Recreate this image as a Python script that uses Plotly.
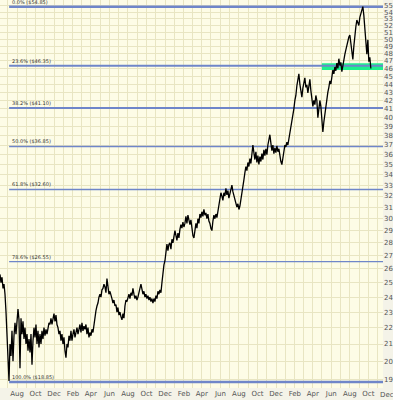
import numpy as np
import pandas as pd
import plotly.graph_objects as go

# ---- data ----
price_start = "2004-06-06"
price_end = "2007-10-09"
prices = [
    25.6, 25.0, 25.4, 24.6, 24.9, 24.2, 23.0, 21.2, 20.0, 18.9,
    21.0, 20.3, 21.8, 20.0, 21.5, 22.3, 21.6, 22.8, 23.2, 22.5,
    19.6, 22.6, 21.6, 22.4, 21.3, 22.0, 21.0, 21.6, 20.6, 21.3,
    20.5, 21.6, 19.8, 21.2, 22.0, 21.4, 22.2, 21.0, 21.8, 20.8,
    21.6, 21.0, 21.8, 21.3, 22.0, 21.5, 21.9, 21.6, 22.0, 22.3,
    22.2, 22.6, 22.2, 22.5, 22.9, 22.4, 22.8, 22.2, 22.0, 21.6,
    21.8, 21.2, 21.6, 21.0, 21.4, 20.6, 20.2, 21.0, 20.8, 21.5,
    21.2, 21.8, 21.2, 21.6, 21.9, 21.4, 21.8, 22.0, 21.6, 21.9,
    22.2, 21.7, 22.3, 21.8, 22.1, 21.9, 22.2, 21.6, 22.0, 21.4,
    21.7, 21.5, 21.9, 21.7, 22.3, 22.8, 23.1, 23.4, 23.6, 24.0,
    24.2, 24.0, 24.5, 24.6, 24.9, 24.7, 24.3, 25.3, 24.6, 24.2,
    24.4, 24.0, 23.9, 23.6, 23.8, 23.4, 23.5, 23.0, 23.3, 22.8,
    23.0, 22.7, 22.5, 22.9, 22.6, 23.4, 23.8, 23.7, 24.0, 24.2,
    23.9, 24.3, 24.1, 24.6, 24.2, 23.9, 24.1, 23.8, 24.0, 24.4,
    24.6, 24.9, 24.5, 24.2, 24.4, 24.0, 24.2, 23.9, 24.1, 23.8,
    24.0, 23.7, 23.9, 23.6, 23.9, 23.7, 24.1, 23.9, 24.4, 24.2,
    24.5, 24.3, 25.0, 25.9, 26.3, 26.6, 27.4, 27.9, 27.4, 27.9,
    28.0, 27.5, 28.3, 28.0, 28.5, 29.0, 28.6, 28.2, 28.8, 28.4,
    29.1, 29.5, 29.2, 29.7, 29.3, 29.6, 30.2, 29.6, 30.3, 29.8,
    29.5, 29.9, 29.0, 28.6, 28.4, 29.0, 29.6, 29.2, 30.0, 29.6,
    30.4, 30.1, 30.6, 30.2, 30.8, 30.3, 30.5, 30.0, 30.4, 29.8,
    29.6, 29.2, 29.0, 29.8, 30.3, 30.0, 30.4, 30.1, 30.6, 31.0,
    31.6, 32.3, 32.0, 31.6, 32.3, 32.0, 32.7, 32.1, 32.5, 31.8,
    32.2, 32.6, 33.0, 32.4, 32.0, 31.8, 31.4, 31.0, 31.3, 30.8,
    31.1, 31.6, 32.2, 32.8, 33.5, 34.2, 34.8, 34.4, 35.2, 34.8,
    35.6, 35.1, 36.0, 37.0, 36.2, 35.5, 36.3, 35.2, 35.9, 35.0,
    35.8, 35.3, 36.1, 35.5, 36.5, 35.9, 36.6, 36.0, 37.0, 37.5,
    38.1, 37.2, 36.4, 37.0, 36.1, 36.7, 36.2, 36.9, 36.3, 36.6,
    35.8, 35.3, 35.0, 35.8, 36.5, 37.0, 36.8, 37.3, 37.0, 37.6,
    38.2, 38.8, 39.5, 40.3, 41.0, 42.0, 42.6, 43.8, 44.6, 45.3,
    44.0, 43.2, 42.4, 43.5, 44.2, 44.8, 43.6, 43.9, 42.9, 43.8,
    44.6, 43.2, 42.4, 41.3, 42.0, 41.5, 42.6, 42.0, 40.0, 41.0,
    42.0, 41.3, 40.2, 38.4, 39.5, 40.5, 41.2, 42.0, 43.0, 43.6,
    44.4, 44.0, 45.0, 45.8, 45.3, 46.2, 45.7, 46.7, 46.0, 47.3,
    46.4, 46.8, 45.6, 46.6, 47.2, 47.9, 48.5, 49.2, 49.9, 50.3,
    50.6, 49.5, 48.5, 47.2, 49.0, 51.0, 51.8, 52.8, 52.3, 52.0,
    53.2, 53.8, 54.3, 54.85, 53.5, 51.3, 50.0, 47.9, 49.9, 46.9,
    47.5, 46.0,
]

fib_high = 54.85
fib_low = 18.85
fib_ratios = [0.0, 0.236, 0.382, 0.5, 0.618, 0.786, 1.0]
fib_widths = [2.5, 2, 2, 1.6, 1.6, 1.2, 2.5]
fib_start = "2004-07-06"
fib_end = "2007-11-18"

zone_low = 45.8
zone_high = 46.7
zone_start = "2007-05-01"
zone_end = "2007-11-18"

y_ticks = list(range(19, 56))
x_range = ["2004-06-06", "2007-11-18"]
y_range = [18.53, 55.9]
extra_x_label = "Dec"

# ---- styling ----
PLOT_BG = "#FDFCE6"
GRID = "#E8E5C2"
STRIP = "#F4F3E8"
FIB_COLOR = "#6F86C9"
ZONE = "#1CF08C"
FONT = "DejaVu Sans"
TICK_FONT = dict(family=FONT, size=7, color="#555555")

dates = pd.date_range(price_start, price_end, periods=len(prices))

fig = go.Figure()

# green support zone
fig.add_trace(go.Scatter(
    x=[zone_start, zone_end, zone_end, zone_start, zone_start],
    y=[zone_low, zone_low, zone_high, zone_high, zone_low],
    fill="toself", fillcolor=ZONE, mode="lines", line=dict(width=0, color=ZONE),
    hoverinfo="skip", showlegend=False,
))

# fibonacci levels
annotations = []
for r, w in zip(fib_ratios, fib_widths):
    level = fib_high - r * (fib_high - fib_low)
    fig.add_trace(go.Scatter(
        x=[fib_start, fib_end], y=[level, level], mode="lines",
        line=dict(color=FIB_COLOR, width=w), hoverinfo="skip", showlegend=False,
    ))
    annotations.append(dict(
        x=fib_start, y=np.log10(level), xref="x", yref="y",
        text=f"{r*100:.1f}% (${level:.2f})", showarrow=False,
        xanchor="left", yanchor="bottom", xshift=1, yshift=0,
        font=dict(family=FONT, size=5, color="#333333"),
    ))

# month label that sits under the price-axis strip
annotations.append(dict(
    x=1.0104, y=0, xref="paper", yref="paper", text=extra_x_label,
    showarrow=False, xanchor="center", yanchor="top", yshift=-1,
    font=TICK_FONT,
))

# price
fig.add_trace(go.Scatter(
    x=dates, y=prices, mode="lines",
    line=dict(color="#000000", width=1.3), showlegend=False,
))

fig.update_layout(
    width=393, height=400,
    margin=dict(l=0, r=10, t=0, b=12),
    paper_bgcolor=STRIP, plot_bgcolor=PLOT_BG,
    showlegend=False,
    annotations=annotations,
    xaxis=dict(
        type="date", range=x_range, dtick="M2", tick0="2004-06-01",
        tickformat="%b", showgrid=True, gridcolor=GRID, gridwidth=1,
        minor=dict(dtick="M1", showgrid=True, gridcolor=GRID, gridwidth=1),
        ticks="", ticklen=0, zeroline=False, showline=False, automargin=False,
        tickfont=TICK_FONT,
    ),
    yaxis=dict(
        type="log", range=[np.log10(y_range[0]), np.log10(y_range[1])],
        side="right", tickvals=y_ticks, ticktext=[str(v) for v in y_ticks],
        showgrid=True, gridcolor=GRID, gridwidth=1,
        ticks="", ticklen=0, zeroline=False, showline=False, automargin=False,
        tickfont=TICK_FONT,
    ),
)

fig.write_html(
    "out.html",
    config={"displayModeBar": False},
    post_script="document.body.style.margin='0px';document.body.style.overflow='hidden';",
)
